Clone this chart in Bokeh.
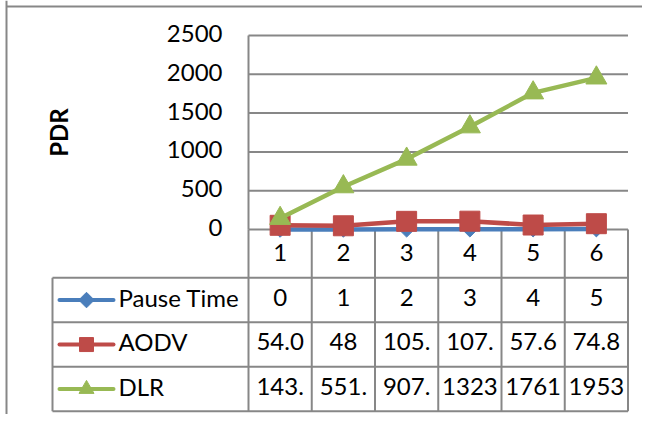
import numpy as np
from bokeh.plotting import figure
from bokeh.models import Range1d
from bokeh.core.properties import value
from bokeh.embed import file_html
from bokeh.resources import INLINE

# ---------------- data ----------------
categories = ["1", "2", "3", "4", "5", "6"]
series_names = ["Pause Time", "AODV", "DLR"]
pause_time = [0, 1, 2, 3, 4, 5]
aodv = [54.03, 48, 105.3, 107.2, 57.6, 74.8]
dlr = [143.6, 551.4, 907.2, 1323.5, 1761.3, 1953.4]
y_ticks = [0, 500, 1000, 1500, 2000, 2500]
y_label = "PDR"

series_values = [pause_time, aodv, dlr]
series_colors = ["#4A7EBB", "#BE4B48", "#98B954"]
series_markers = ["square", "square", "triangle"]
series_angles = [np.pi / 4, 0, 0]
chart_sizes = [11, 20, 21]
legend_sizes = [11, 14, 15]

# ---------------- layout (picture pixels) ----------------
W, H = 642, 414
OFF = 0
PLOT_L, PLOT_R = 248.0, 627.5
PLOT_T, PLOT_B = 35.0, 229.0
TABLE_L = 52.0
ROW0 = 277.3
ROW_H = 44.5
GRAY = "#878787"
FONT = value("Lato")
FS = value("24px")

n = len(categories)
sx = (PLOT_R - PLOT_L) / n
x0 = 0.5 - (PLOT_L - OFF) / sx
x1 = x0 + W / sx
ymax = y_ticks[-1]
sy = (PLOT_B - PLOT_T) / ymax
y1 = ymax + (PLOT_T - OFF) / sy
y0 = -(OFF + H - PLOT_B) / sy
t1 = (ROW0 - OFF) / ROW_H
t0 = (ROW0 - (OFF + H)) / ROW_H
header_top = (ROW0 - PLOT_B) / ROW_H
x_tab = 0.5 - (PLOT_L - TABLE_L) / sx


def px_x(page_x):
    return x0 + (page_x - OFF) / sx


p = figure(width=W, height=H, output_backend="svg", toolbar_location=None,
           x_range=Range1d(x0, x1), y_range=Range1d(y0, y1),
           x_axis_location=None, y_axis_location=None, min_border=0,
           tools="")
p.extra_y_ranges = {"tbl": Range1d(t0, t1)}
p.xgrid.visible = False
p.ygrid.visible = False
p.outline_line_color = None
p.background_fill_color = "white"
p.border_fill_color = "white"

xs = list(range(1, n + 1))
nrows = len(series_names)

# outer chart border (left & top)
p.segment(x0=[px_x(6)], y0=[y1], x1=[px_x(6)], y1=[y0],
          line_color=GRAY, line_width=2)
p.segment(x0=[px_x(6)], y0=[y1 - (6 - OFF) / sy], x1=[x1], y1=[y1 - (6 - OFF) / sy],
          line_color=GRAY, line_width=2)

# gridlines (incl. zero line) and left axis line
p.segment(x0=[0.5] * len(y_ticks), y0=y_ticks, x1=[n + 0.5] * len(y_ticks), y1=y_ticks,
          line_color=GRAY, line_width=2)
p.segment(x0=[0.5], y0=[0], x1=[0.5], y1=[ymax], line_color=GRAY, line_width=2)

# table lines
vx = [i + 0.5 for i in range(n + 1)]
p.segment(x0=vx, y0=[header_top] * len(vx), x1=vx, y1=[-nrows] * len(vx),
          line_color=GRAY, line_width=2, y_range_name="tbl")
hy = [-k for k in range(nrows + 1)]
p.segment(x0=[x_tab] * len(hy), y0=hy, x1=[n + 0.5] * len(hy), y1=hy,
          line_color=GRAY, line_width=2, y_range_name="tbl")
p.segment(x0=[x_tab], y0=[0], x1=[x_tab], y1=[-nrows],
          line_color=GRAY, line_width=2, y_range_name="tbl")

# series
for vals, col, mk, ang, sz in zip(series_values, series_colors, series_markers,
                                  series_angles, chart_sizes):
    p.line(xs, vals, line_color=col, line_width=4.5, line_join="round")
    p.scatter(xs, vals, marker=mk, angle=ang, size=sz, fill_color=col,
              line_color=col, line_width=1)

# y tick labels
p.text(x=[0.5] * len(y_ticks), y=y_ticks, text=[str(t) for t in y_ticks],
       x_offset=-26, y_offset=-2, text_align="right", text_baseline="middle",
       text_font=FONT, text_font_size=FS, text_color="black")

# y axis title
p.text(x=[px_x(57.5)], y=[ymax / 2], text=[y_label], angle=np.pi / 2,
       text_align="center", text_baseline="middle", text_font=FONT,
       text_font_size=FS, text_font_style="bold", text_color="black")

# category labels (header row)
p.text(x=xs, y=[header_top / 2] * n, text=categories, y_offset=-1,
       text_align="center", text_baseline="middle", text_font=FONT,
       text_font_size=FS, text_color="black", y_range_name="tbl")


def cell_text(v):
    return f"{v:g}"[:4]


# table cells and legend keys
for k, (name, vals, col, mk, ang, lsz) in enumerate(zip(series_names, series_values,
                                                         series_colors, series_markers,
                                                         series_angles, legend_sizes)):
    yc = -(k + 0.5)
    p.text(x=xs, y=[yc] * n, text=[cell_text(v) for v in vals], y_offset=-3,
           text_align="center", text_baseline="middle", text_font=FONT,
           text_font_size=FS, text_color="black", y_range_name="tbl")
    p.segment(x0=[px_x(59)], y0=[yc], x1=[px_x(113)], y1=[yc], line_color=col,
              line_width=4, line_cap="round", y_range_name="tbl")
    p.scatter(x=[px_x(86)], y=[yc], marker=mk, angle=ang, size=lsz,
              fill_color=col, line_color=col, y_range_name="tbl")
    p.text(x=[px_x(118)], y=[yc], text=[name], y_offset=-3, text_align="left",
           text_baseline="middle", text_font=FONT, text_font_size=FS,
           text_color="black", y_range_name="tbl")

open("out.html", "w").write(file_html(p, INLINE))
